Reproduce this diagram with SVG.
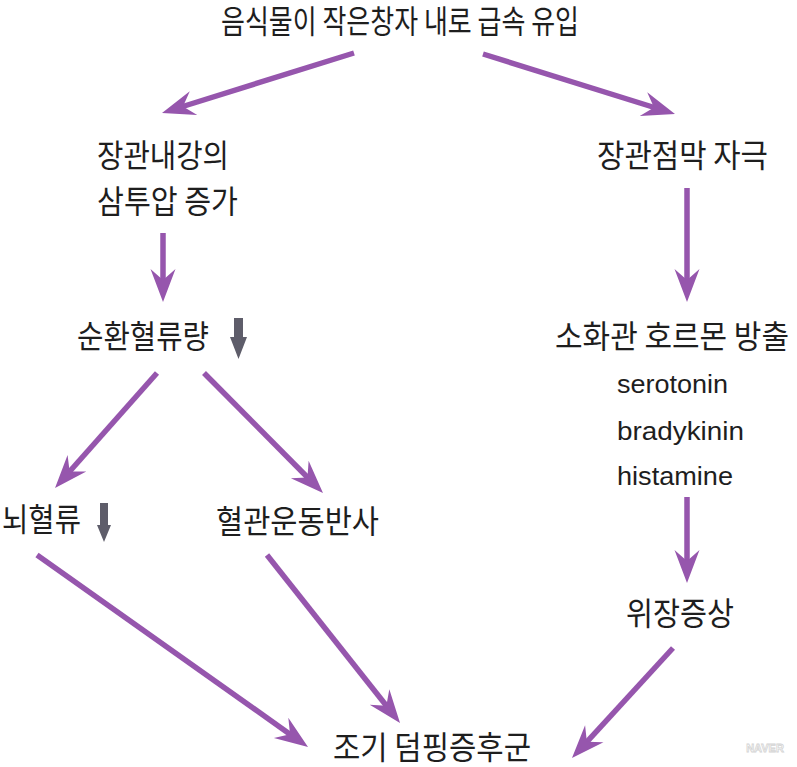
<svg xmlns="http://www.w3.org/2000/svg" width="797" height="767" viewBox="0 0 797 767">
<defs>
<style>
.k{font-family:"Noto Sans CJK KR","Noto Sans",sans-serif;font-size:32px;fill:#1e1e1e}
.e{font-family:"Liberation Sans","Noto Sans",sans-serif;font-size:26px;fill:#1e1e1e}
.c{stroke:#9656ad;stroke-width:5.5;fill:none}
.g{fill:#5e5d6a}
</style>
<marker id="ah" markerUnits="userSpaceOnUse" markerWidth="40" markerHeight="30" refX="13" refY="0" orient="auto" overflow="visible">
<path d="M0,-12.5 L33,0 L0,12.5 L11,0 Z" fill="#9656ad"/>
</marker>
</defs>
<rect width="797" height="767" fill="#ffffff"/>
<g id="connectors">
<path class="c" marker-end="url(#ah)" d="M354,53 L181.1,107"/>
<path class="c" marker-end="url(#ah)" d="M483,54 L655.9,108"/>
<path class="c" marker-end="url(#ah)" d="M163,233 L163,282"/>
<path class="c" marker-end="url(#ah)" d="M687,188 L687,282"/>
<path class="c" marker-end="url(#ah)" d="M157,373 L68.3,473"/>
<path class="c" marker-end="url(#ah)" d="M204,373 L308.9,478.8"/>
<path class="c" marker-end="url(#ah)" d="M687,497 L687,563"/>
<path class="c" marker-end="url(#ah)" d="M37,555 L291.7,735.4"/>
<path class="c" marker-end="url(#ah)" d="M267,555 L387.6,707.3"/>
<path class="c" marker-end="url(#ah)" d="M673,648 L585.5,743.3"/>
</g>
<g id="n-title"><text class="k" x="221" y="33" textLength="358" lengthAdjust="spacingAndGlyphs">음식물이 작은창자 내로 급속 유입</text></g>
<g id="n-osmotic">
<text class="k" x="97" y="167" textLength="132" lengthAdjust="spacingAndGlyphs">장관내강의</text>
<text class="k" x="97" y="213" textLength="141" lengthAdjust="spacingAndGlyphs">삼투압 증가</text>
</g>
<g id="n-mucosa"><text class="k" x="597" y="167" textLength="171" lengthAdjust="spacingAndGlyphs">장관점막 자극</text></g>
<g id="n-volume">
<text class="k" x="77" y="348" textLength="132" lengthAdjust="spacingAndGlyphs">순환혈류량</text>
<path class="g" d="M234,318 H243 V337 H247 L238.5,359 L230,337 H234 Z"/>
</g>
<g id="n-hormone">
<g transform="translate(555,348) scale(0.87,1)"><text class="k" x="0" y="0" textLength="269" lengthAdjust="spacingAndGlyphs">소화관 호르몬 방출</text></g>
<text class="e" x="617" y="393" textLength="111" lengthAdjust="spacingAndGlyphs">serotonin</text>
<text class="e" x="617" y="440" textLength="127" lengthAdjust="spacingAndGlyphs">bradykinin</text>
<text class="e" x="617" y="485" textLength="116" lengthAdjust="spacingAndGlyphs">histamine</text>
</g>
<g id="n-brain">
<text class="k" x="2" y="531" textLength="79" lengthAdjust="spacingAndGlyphs">뇌혈류</text>
<path class="g" d="M100,503 H108 V525 H111 L104,542 L97,525 H100 Z"/>
</g>
<g id="n-vasomotor"><text class="k" x="216" y="533" textLength="163" lengthAdjust="spacingAndGlyphs">혈관운동반사</text></g>
<g id="n-gi"><text class="k" x="626" y="625" textLength="108" lengthAdjust="spacingAndGlyphs">위장증상</text></g>
<g id="n-dumping"><text class="k" x="333" y="759" textLength="198" lengthAdjust="spacingAndGlyphs">조기 덤핑증후군</text></g>
<text x="765" y="752" text-anchor="middle" font-family="Liberation Sans,sans-serif" font-size="11" font-weight="bold" fill="#ffffff" stroke="#d4d4d4" stroke-width="0.8">NAVER</text>
</svg>
